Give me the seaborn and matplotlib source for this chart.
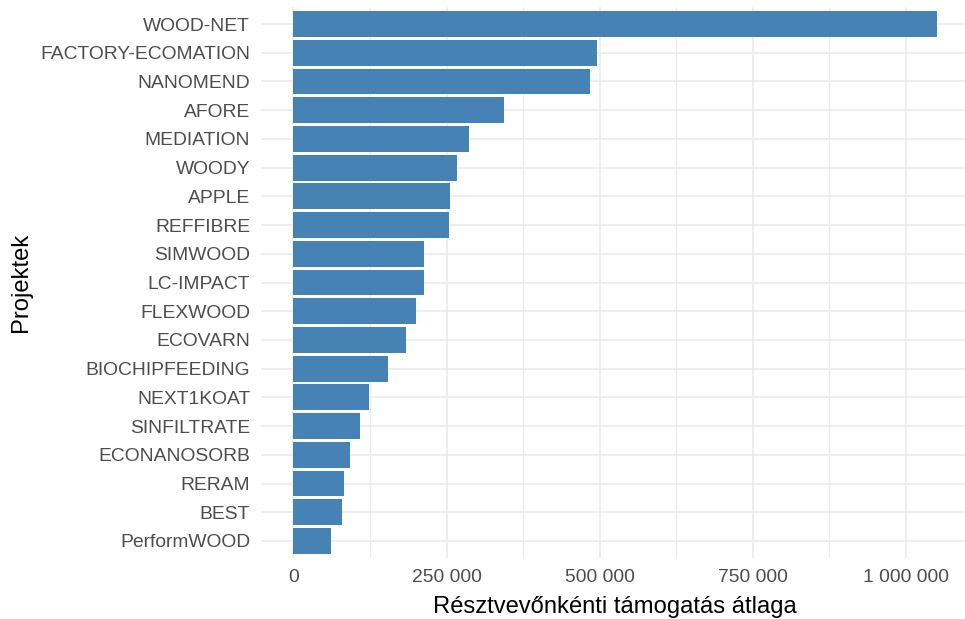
import numpy as np
import pandas as pd
import matplotlib
matplotlib.use("Agg")
import matplotlib.pyplot as plt
import seaborn as sns
from matplotlib.ticker import FuncFormatter, MultipleLocator

# projektek es a resztvevonkenti tamogatas atlaga (leolvasva)
projects = ["WOOD-NET", "FACTORY-ECOMATION", "NANOMEND", "AFORE", "MEDIATION",
            "WOODY", "APPLE", "REFFIBRE", "SIMWOOD", "LC-IMPACT", "FLEXWOOD",
            "ECOVARN", "BIOCHIPFEEDING", "NEXT1KOAT", "SINFILTRATE",
            "ECONANOSORB", "RERAM", "BEST", "PerformWOOD"]
avg_support = [1050600, 496200, 483400, 344000, 285900,
               266400, 256000, 253300, 213800, 213600, 200000,
               184200, 154800, 122800, 109100,
               92800, 82400, 79700, 61200]

x_ticks = [0, 250000, 500000, 750000, 1000000]

df = pd.DataFrame({"projekt": projects, "atlag": avg_support})

sns.set_theme(style="white")
plt.rcParams["font.family"] = ["Liberation Sans", "DejaVu Sans"]

W, H = 965, 619
fig = plt.figure(figsize=(W / 100, H / 100), dpi=100)

# panel pozicio pixelben (ggplot theme_minimal kinezet)
left_px, right_px, top_px, bottom_px = 261.3, 969.2, 6.8, 558.2
ax = fig.add_axes([left_px / W, (H - bottom_px) / H,
                   (right_px - left_px) / W, (bottom_px - top_px) / H])

sns.barplot(data=df, x="atlag", y="projekt", color="#4682B4",
            saturation=1, width=0.9, linewidth=0, ax=ax, zorder=3)

xmax = max(avg_support)
ax.set_xlim(-0.05 * xmax, 1.05 * xmax)
ax.set_ylim(len(projects) - 1 + 0.6, -0.6)

ax.set_xticks(x_ticks)
ax.xaxis.set_minor_locator(MultipleLocator(125000))
ax.xaxis.set_major_formatter(FuncFormatter(lambda v, p: f"{int(v):,}".replace(",", " ")))

ax.grid(True, which="major", axis="both", color="#EBEBEB", linewidth=1.2, zorder=0)
ax.grid(True, which="minor", axis="x", color="#EBEBEB", linewidth=0.9, zorder=0)
ax.set_axisbelow(True)

for s in ax.spines.values():
    s.set_visible(False)

ax.tick_params(axis="both", which="both", length=0, labelsize=13.9, colors="#4D4D4D")
ax.tick_params(axis="y", pad=8)
ax.tick_params(axis="x", pad=8)

ax.set_xlabel("Résztvevőnkénti támogatás átlaga", fontsize=17.1, color="black", labelpad=7)
ax.set_ylabel("Projektek", fontsize=17.1, color="black", labelpad=6)

fig.savefig("out.png", dpi=100)
